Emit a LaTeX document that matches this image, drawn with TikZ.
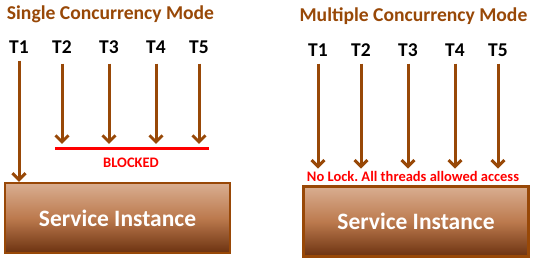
\documentclass[tikz,border=0pt]{standalone}
\usepackage{fontspec}
\setmainfont{Carlito}
\usepackage{tikz}
\usetikzlibrary{arrows.meta, positioning, calc}
\usepackage{xcolor}
\definecolor{rust}{HTML}{984807}
\definecolor{boxtop}{HTML}{D9AE91}
\definecolor{boxmid}{HTML}{BC7A4E}
\definecolor{boxbot}{HTML}{6C3210}
\frenchspacing

\begin{document}
\begin{tikzpicture}[x=1pt, y=-1pt,
  title/.style={font=\fontsize{19.6}{22}\selectfont\bfseries, text=rust, inner sep=0pt},
  thr/.style={font=\fontsize{19.5}{22}\selectfont\bfseries, inner sep=0pt},
  flow/.style={draw=rust, line width=3pt, -{Straight Barb[length=6.5pt,width=13pt,line width=3pt]}},
  svc/.style={draw=rust, line width=2.4pt, minimum width=225pt, minimum height=70pt,
              top color=boxtop, bottom color=boxbot, middle color=boxmid, shading angle=0,
              text=white, font=\fontsize{23.5}{26}\selectfont\bfseries},
  note/.style={font=\fontsize{14.5}{16}\selectfont\bfseries, text=red, inner sep=0pt}
]
\useasboundingbox (0,0) rectangle (533,261);

% Single concurrency mode
\node[title] (single) at (110.5,14) {Single Concurrency Mode};
\node[thr] (s1) at (19,47) {T1};
\node[thr] (s2) at (62,47) {T2};
\node[thr] (s3) at (109,47) {T3};
\node[thr] (s4) at (156,47) {T4};
\node[thr] (s5) at (199,47) {T5};

\node[svc] (svcA) at (117.5,218) {Service Instance};

\coordinate (barL) at (55,149);
\coordinate (barR) at (209,149);
\draw[red, line width=3pt] (barL) -- (barR);
\node[note] (blocked) at (131,163) {BLOCKED};

\draw[flow] ($(s1.south)+(0,7)$) -- (svcA.north -| s1);
\foreach \t in {2,...,5}
  \draw[flow] ($(s\t.south)+(0,10)$) -- ($(barL -| s\t)+(0,-5)$);

% Multiple concurrency mode
\node[title] (multi) at (413.5,16) {Multiple Concurrency Mode};
\node[thr] (m1) at (318,50) {T1};
\node[thr] (m2) at (361,50) {T2};
\node[thr] (m3) at (408,50) {T3};
\node[thr] (m4) at (455,50) {T4};
\node[thr] (m5) at (498,50) {T5};

\node[svc] (svcB) at (416,221.5) {Service Instance};
\node[note] (nolock) at (413,176) {No Lock. All threads allowed access};

\foreach \t in {1,...,5}
  \draw[flow] ($(m\t.south)+(0,7)$) -- ($(nolock.north -| m\t)+(0,-2)$);

\end{tikzpicture}
\end{document}
